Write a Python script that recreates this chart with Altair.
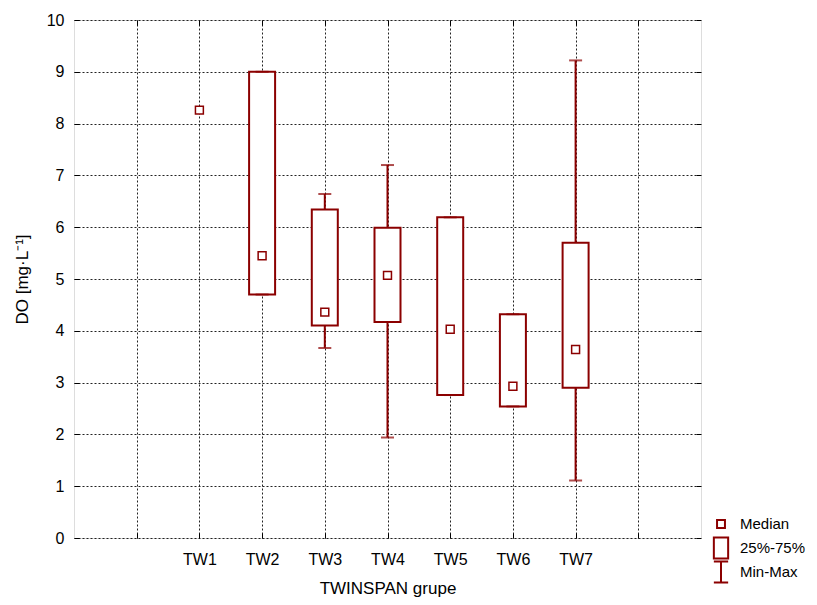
import altair as alt
import pandas as pd

# ---- data ----
groups = ["TW1", "TW2", "TW3", "TW4", "TW5", "TW6", "TW7"]
medians = [8.26, 5.45, 4.36, 5.07, 4.03, 2.93, 3.64]
q1s = [None, 4.70, 4.10, 4.17, 2.76, 2.54, 2.90]
q3s = [None, 9.00, 6.34, 5.99, 6.19, 4.32, 5.70]
mins = [None, 4.70, 3.67, 1.94, 2.76, 2.54, 1.11]
maxs = [None, 9.00, 6.64, 7.20, 6.19, 4.32, 9.22]
x_domain = [" "] + groups + ["  "]
y_ticks = list(range(0, 11))
legend_items = ["Median", "25%-75%", "Min-Max"]

df = pd.DataFrame({"grp": groups, "med": medians, "q1": q1s, "q3": q3s,
                   "mn": mins, "mx": maxs})

RED = "#8B0000"
FONT = "Liberation Sans"

xscale = alt.Scale(type="point", domain=x_domain, padding=1)
yscale = alt.Scale(domain=[0, 10], nice=False, zero=True)

main_x = alt.Axis(orient="bottom", title="TWINSPAN grupe", grid=True, gridColor="#222",
                  gridDash=[2, 2], gridWidth=1, ticks=False, domain=False, labelAngle=0,
                  labelFontSize=16, labelPadding=13, labelColor="black",
                  titleFontSize=17, titleFontWeight="normal", titleColor="black",
                  titlePadding=13, labelFont=FONT, titleFont=FONT)
main_y = alt.Axis(orient="left", title="DO [mg·L⁻¹]", values=y_ticks, grid=True,
                  gridColor="#222", gridDash=[2, 2], gridWidth=1, ticks=False,
                  domain=False, labelFontSize=16, labelPadding=10, labelColor="black",
                  titleFontSize=17, titleFontWeight="normal", titleColor="black",
                  titlePadding=15, labelFont=FONT, titleFont=FONT)


def inner_axis(orient, vals=None):
    kw = dict(orient=orient, offset=-5, ticks=True, tickSize=5, tickColor="black",
              tickWidth=1, labels=False, domain=False, grid=False, title=None)
    if vals is not None:
        kw["values"] = vals
    return alt.Axis(**kw)


base = alt.Chart(df)

whiskers = base.mark_rule(color=RED, strokeWidth=2).encode(
    x=alt.X("grp:N", scale=xscale, axis=main_x),
    y=alt.Y("mn:Q", scale=yscale, axis=main_y),
    y2="mx:Q",
)

boxes = base.mark_bar(size=26, fill="white", stroke=RED, strokeWidth=2).encode(
    x=alt.X("grp:N", scale=xscale, axis=inner_axis("bottom")),
    y=alt.Y("q1:Q", scale=yscale, axis=inner_axis("left", y_ticks)),
    y2="q3:Q",
)

caps = base.transform_fold(["mn", "mx"], as_=["end", "val"]).mark_tick(
    color=RED, size=13, thickness=2, orient="horizontal").encode(
    x=alt.X("grp:N", scale=xscale, axis=inner_axis("top")),
    y=alt.Y("val:Q", scale=yscale, axis=inner_axis("right", y_ticks)),
)

shape_paths = [
    "M-0.36,-0.36L0.36,-0.36L0.36,0.36L-0.36,0.36Z",
    "M-0.65,-0.95L0.65,-0.95L0.65,0.95L-0.65,0.95Z",
    "M-0.65,-0.95L0.65,-0.95M0,-0.95L0,0.95M-0.65,0.95L0.65,0.95",
]

meds = base.transform_calculate(kind="'Median'").mark_point(
    filled=False, fill="white", stroke=RED, strokeWidth=1.5, size=484, opacity=1).encode(
    x=alt.X("grp:N", scale=xscale, axis=None),
    y=alt.Y("med:Q", scale=yscale, axis=None),
    shape=alt.Shape("kind:N", scale=alt.Scale(domain=legend_items, range=shape_paths),
                    legend=alt.Legend(title=None, orient="none", legendX=635, legendY=492,
                                      labelFontSize=15, labelFont=FONT, labelColor="black",
                                      symbolSize=484, symbolStrokeWidth=2,
                                      labelOffset=7, rowPadding=0, clipHeight=24,
                                      padding=0)),
)

chart = alt.layer(whiskers, boxes, caps, meds).resolve_axis(
    x="independent", y="independent"
).properties(
    width=627, height=518,
    autosize=alt.AutoSizeParams(type="none"),
    padding={"left": 66, "top": 12, "right": 108, "bottom": 59},
).configure_view(stroke="black", strokeWidth=2).configure(font=FONT, background="white")

chart.save("out.html", embed_options={"renderer": "svg", "actions": False})
